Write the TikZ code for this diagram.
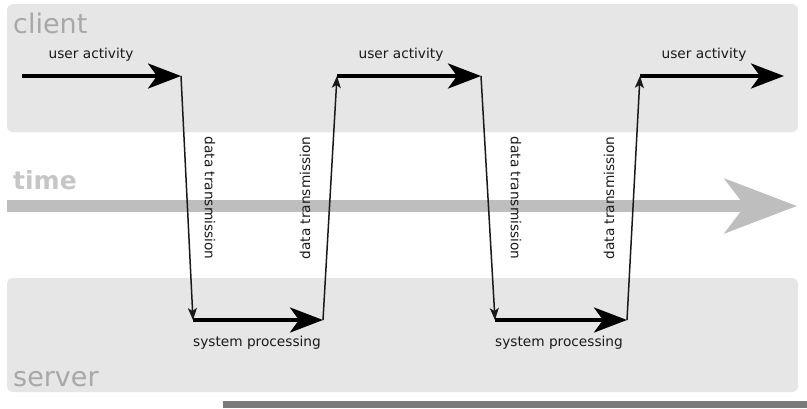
\documentclass[tikz,border=0pt]{standalone}
\usepackage{fontspec}
\setmainfont{DejaVu Sans}
\usetikzlibrary{arrows.meta}
\definecolor{panel}{HTML}{E6E6E6}
\definecolor{bigtxt}{HTML}{A8A8A8}
\definecolor{timecol}{HTML}{BEBEBE}
\definecolor{timetxt}{HTML}{C6C6C6}
\definecolor{barcol}{HTML}{7A7A7A}
\definecolor{lbl}{HTML}{1A1A1A}
\tikzset{
  panelbox/.style={fill=panel, draw=none, rounded corners=6pt},
  bigtitle/.style={text=bigtxt, font=\fontsize{27}{30}\selectfont, inner sep=0pt, anchor=base west},
  activity/.style={line width=4pt, black, -{Stealth[length=33pt,width=25pt,inset=9pt]}},
  transmit/.style={line width=1.5pt, black!90, -{Stealth[length=12pt,width=9pt,inset=3pt]}},
  lab/.style={text=lbl, font=\fontsize{13.7}{15}\selectfont, inner sep=0pt},
}
\begin{document}
\begin{tikzpicture}[x=1pt,y=-1pt]
\useasboundingbox (0,0) rectangle (807,408);
\fill[white] (0,0) rectangle (807,408);
% panels
\path[panelbox] (7,4) rectangle (798,132);
\path[panelbox] (7,278) rectangle (798,392);
\fill[barcol] (223,401) rectangle (807,408);
% titles
\node[bigtitle] (client) at (13,33) {client};
\node[bigtitle] (server) at (13,386) {server};
\node[text=timetxt, font=\bfseries\fontsize{25}{28}\selectfont, inner sep=0pt, anchor=base west] (time) at (13,189) {time};
% time arrow
\coordinate (t0) at (7,206);
\coordinate (t1) at (797,206);
\draw[timecol, line width=12pt, -{Stealth[length=72pt,width=54pt,inset=20pt]}] (t0) -- (t1);
% key points
\coordinate (c1) at (22,76);
\coordinate (c2) at (181,76);
\coordinate (s1) at (193,320);
\coordinate (s2) at (323,320);
\coordinate (c3) at (337,76);
\coordinate (c4) at (481,76);
\coordinate (s3) at (495,320);
\coordinate (s4) at (627,320);
\coordinate (c5) at (640,76);
\coordinate (c6) at (784,76);
% transmissions
\draw[transmit] (c2) -- (s1);
\draw[transmit] (s2) -- (c3);
\draw[transmit] (c4) -- (s3);
\draw[transmit] (s4) -- (c5);
% activity arrows
\draw[activity] (c1) -- (c2);
\draw[activity] (c3) -- (c4);
\draw[activity] (c5) -- (c6);
\draw[activity] (s1) -- (s2);
\draw[activity] (s3) -- (s4);
% labels
\node[lab] (ua1) at (91,55) {user activity};
\node[lab] (ua2) at (401,55) {user activity};
\node[lab] (ua3) at (704,55) {user activity};
\node[lab] (sp1) at (257,343) {system processing};
\node[lab] (sp2) at (559,343) {system processing};
\node[lab, rotate=-90] (dt1) at (210,198) {data transmission};
\node[lab, rotate=90] (dt2) at (305,198) {data transmission};
\node[lab, rotate=-90] (dt3) at (516,198) {data transmission};
\node[lab, rotate=90] (dt4) at (609,198) {data transmission};
\end{tikzpicture}
\end{document}
